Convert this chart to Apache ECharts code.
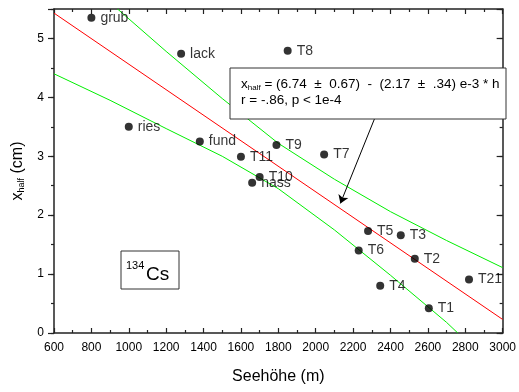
<!DOCTYPE html>
<html>
<head>
<meta charset="utf-8">
<script src="https://cdn.jsdelivr.net/npm/echarts@6/dist/echarts.min.js"></script>
<style>html,body{margin:0;padding:0;background:#fff}#c{width:519px;height:392px}</style>
</head>
<body>
<div id="c"></div>
<script>
// ---- data ----
const siteNames = ['grub','lack','ries','fund','T11','T10','nass','T9','T7','T8','T5','T3','T6','T2','T21','T4','T1'];
const altitude  = [800,1280,1000,1380,1600,1700,1660,1790,2045,1850,2280,2455,2230,2530,2820,2345,2605];
const xHalf     = [5.35,4.74,3.50,3.25,2.99,2.65,2.55,3.19,3.03,4.79,1.73,1.66,1.40,1.26,0.91,0.80,0.42];

const fitX = [600, 3000];
const fitY = [5.43, 0.23];

const upperX = [940,1200,1500,1800,2100,2400,2700,3000];
const upperY = [5.50,4.78,3.98,3.22,2.61,2.06,1.57,1.11];
const lowerX = [600,900,1200,1500,1800,2100,2400,2700,2760];
const lowerY = [4.40,3.95,3.47,3.00,2.45,1.75,0.98,0.18,0.00];

const arrowFrom = [2329, 3.75];
const arrowTo   = [2132, 2.20];

const xTicks = {min: 600, max: 3000, step: 200};
const yTicks = {min: 0, max: 5.5, step: 1};

const FONT = "'Liberation Sans', Arial, sans-serif";
const AX = '#222';

const zip = (a, b) => a.map((v, i) => [v, b[i]]);

const chart = echarts.init(document.getElementById('c'), null, {renderer: 'canvas'});

const baseX = {
  type: 'value', min: xTicks.min, max: xTicks.max, interval: xTicks.step,
  splitLine: {show: false},
  axisLine: {show: true, onZero: false, lineStyle: {color: AX, width: 1.5}},
  axisTick: {show: true, inside: true, length: 5, lineStyle: {color: AX, width: 1.2}},
  minorTick: {show: true, splitNumber: 2, length: 3, lineStyle: {color: AX, width: 1.2}},
  minorSplitLine: {show: false}
};
const baseY = {
  type: 'value', min: yTicks.min, max: yTicks.max,
  splitLine: {show: false},
  axisLine: {show: true, onZero: false, lineStyle: {color: AX, width: 1.5}},
  axisLabel: {show: false}
};

chart.setOption({
  animation: false,
  backgroundColor: '#fff',
  grid: {left: 54, right: 16, top: 9, bottom: 59, containLabel: false},
  xAxis: [
    Object.assign({}, baseX, {
      position: 'bottom',
      axisLabel: {show: true, fontSize: 12, color: '#000', fontFamily: FONT, margin: 9,
        formatter: v => String(v)},
      name: 'Seehöhe (m)', nameLocation: 'middle', nameGap: 36,
      nameTextStyle: {fontSize: 16, color: '#000', fontFamily: FONT}
    }),
    Object.assign({}, baseX, {position: 'top', axisLabel: {show: false}})
  ],
  yAxis: [
    Object.assign({}, baseY, {
      position: 'left', interval: yTicks.step,
      axisTick: {show: true, inside: false, length: 6, lineStyle: {color: AX, width: 1.2}},
      axisLabel: {show: true, fontSize: 12, color: '#000', fontFamily: FONT, margin: 10,
        formatter: v => (Math.abs(v % 1) < 1e-9 ? String(v) : '')},
      name: '{a|x}{b|half}{a| (cm)}', nameLocation: 'middle', nameGap: 28, nameRotate: 90,
      nameTextStyle: {fontFamily: FONT, color: '#000',
        rich: {a: {fontSize: 16, fontFamily: FONT, color: '#000'},
               b: {fontSize: 9, fontFamily: FONT, color: '#000', verticalAlign: 'bottom', padding: [8, 0, 0, 0]}}}
    }),
    Object.assign({}, baseY, {
      position: 'left', interval: yTicks.step / 2,
      axisLine: {show: false},
      axisTick: {show: true, inside: false, length: 3, lineStyle: {color: AX, width: 1.2}}
    }),
    Object.assign({}, baseY, {
      position: 'right', interval: yTicks.step,
      axisTick: {show: true, inside: true, length: 6, lineStyle: {color: AX, width: 1.2}}
    }),
    Object.assign({}, baseY, {
      position: 'right', interval: yTicks.step / 2,
      axisLine: {show: false},
      axisTick: {show: true, inside: true, length: 3, lineStyle: {color: AX, width: 1.2}}
    })
  ],
  series: [
    {
      type: 'line', name: 'upper', data: zip(upperX, upperY), showSymbol: false, symbol: 'none',
      lineStyle: {color: '#00ee00', width: 1}, z: 2, silent: true
    },
    {
      type: 'line', name: 'lower', data: zip(lowerX, lowerY), showSymbol: false, symbol: 'none',
      lineStyle: {color: '#00ee00', width: 1}, z: 2, silent: true
    },
    {
      type: 'line', name: 'fit', data: zip(fitX, fitY), showSymbol: false, symbol: 'none',
      lineStyle: {color: '#ff0000', width: 1}, z: 3, silent: true,
      markLine: {
        silent: true, symbol: ['none', 'arrow'], symbolSize: 8, z: 20,
        lineStyle: {color: '#000', width: 1, type: 'solid'},
        label: {show: false},
        data: [[{coord: arrowFrom}, {coord: arrowTo}]]
      }
    },
    {
      type: 'scatter', name: 'sites', symbol: 'circle', symbolSize: 8,
      itemStyle: {color: '#000'}, z: 5,
      data: altitude.map((h, i) => ({value: [h, xHalf[i]], name: siteNames[i]})),
      label: {show: true, position: 'right', distance: 5, formatter: p => p.name,
        fontSize: 14, color: '#000', fontFamily: FONT}
    }
  ],
  graphic: [
    {type: 'rect', z: 100, shape: {x: 230, y: 68, width: 276, height: 51},
     style: {fill: '#fff', stroke: '#333', lineWidth: 1}},
    {type: 'text', z: 101, left: 241, top: 77,
     style: {text: '{a|x}{b|half}{a| = (6.74  ±  0.67)  -  (2.17  ±  .34) e-3 * h}\n{a|r = -.86, p < 1e-4}',
       fill: '#000', font: '13.5px ' + FONT,
       rich: {a: {fontSize: 13.5, fontFamily: FONT, lineHeight: 16},
              b: {fontSize: 8, fontFamily: FONT, lineHeight: 16, verticalAlign: 'bottom', padding: [6, 0, 0, 0]}}}},
    {type: 'rect', z: 100, shape: {x: 121, y: 251, width: 58, height: 38},
     style: {fill: '#fff', stroke: '#333', lineWidth: 1}},
    {type: 'text', z: 101, left: 126, top: 260,
     style: {text: '134', fill: '#000', font: '11px ' + FONT}},
    {type: 'text', z: 101, left: 146, top: 265,
     style: {text: 'Cs', fill: '#000', font: '19px ' + FONT}}
  ]
});
</script>
</body>
</html>
